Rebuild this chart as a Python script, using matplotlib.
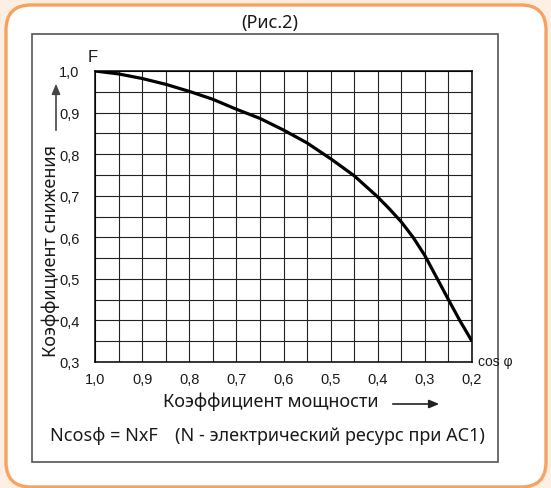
import numpy as np
import matplotlib
matplotlib.use("Agg")
import matplotlib.pyplot as plt
from matplotlib.patches import FancyBboxPatch, Rectangle

cos_phi = [1.0, 0.95, 0.9, 0.85, 0.8, 0.75, 0.7, 0.65, 0.6, 0.55, 0.5,
           0.45, 0.4, 0.375, 0.35, 0.325, 0.3, 0.275, 0.25, 0.225, 0.2]
factor = [1.0, 0.993, 0.982, 0.968, 0.951, 0.932, 0.908, 0.886, 0.858,
          0.827, 0.789, 0.748, 0.697, 0.668, 0.637, 0.600, 0.556, 0.503,
          0.450, 0.398, 0.35]

x_ticks = [1.0, 0.9, 0.8, 0.7, 0.6, 0.5, 0.4, 0.3, 0.2]
y_ticks = [0.3, 0.4, 0.5, 0.6, 0.7, 0.8, 0.9, 1.0]

title = "(Рис.2)"
ylabel = "Коэффициент снижения"
xlabel = "Коэффициент мощности"
formula = "Ncosφ = NxF"
note = "(N - электрический ресурс при AC1)"

W, H = 551, 489
text_font = ["Noto Sans", "DejaVu Sans"]
num_font = ["Liberation Sans", "DejaVu Sans"]
dark = "#1a1a1a"

fig = plt.figure(figsize=(W / 100, H / 100), dpi=100)
fig.patch.set_facecolor("#fdefe3")

# background frame, in pixel units
bg = fig.add_axes([0, 0, 1, 1])
bg.set_xlim(0, W)
bg.set_ylim(H, 0)
bg.axis("off")
bg.add_patch(FancyBboxPatch((6 + 25, 6 + 25), 540 - 50, 482 - 50,
                            boxstyle="round,pad=25", fc="white",
                            ec="#f7a35f", lw=2.4))
bg.add_patch(Rectangle((32, 35), 466, 428, fc="none", ec="#555555", lw=1.2))

bg.text(270, 23, title, ha="center", va="center", fontsize=13,
        family=text_font, color=dark)
bg.text(51, 251, ylabel, ha="center", va="center", rotation=90,
        fontsize=13, family=text_font, color=dark)
bg.annotate("", xy=(56, 82), xytext=(56, 134),
            arrowprops=dict(arrowstyle="-|>,head_length=0.6,head_width=0.25",
                            color="#444444", lw=1.2))
bg.text(271, 402, xlabel, ha="center", va="center", fontsize=13,
        family=text_font, color=dark)
bg.annotate("", xy=(442, 405), xytext=(390, 405),
            arrowprops=dict(arrowstyle="-|>,head_length=0.6,head_width=0.25",
                            color="#222222", lw=1.2))
bg.text(50, 436, formula, ha="left", va="center", fontsize=13,
        family=text_font, color=dark)
bg.text(175, 436, note, ha="left", va="center", fontsize=13,
        family=text_font, color=dark)
bg.text(88, 57, "F", ha="left", va="center", fontsize=12,
        family=num_font, color=dark)
bg.text(478, 362, "cos φ", ha="left", va="center", fontsize=10,
        family=num_font, color=dark)

# chart
left, right, top, bottom = 95, 472, 72, 363
ax = fig.add_axes([left / W, 1 - bottom / H, (right - left) / W, (bottom - top) / H])
ax.set_facecolor("white")
ax.plot(cos_phi, factor, color="black", lw=2.3, solid_joinstyle="round",
        solid_capstyle="butt", zorder=3)
ax.set_xlim(1.0, 0.2)
ax.set_ylim(0.3, 1.0)

ax.set_xticks(x_ticks)
ax.set_xticklabels([f"{v:.1f}".replace(".", ",") for v in x_ticks])
ax.set_yticks(y_ticks)
ax.set_yticklabels([f"{v:.1f}".replace(".", ",") for v in y_ticks])
ax.set_xticks(np.arange(0.2, 1.0, 0.05), minor=True)
ax.set_yticks(np.arange(0.3, 1.0, 0.05), minor=True)
ax.tick_params(which="both", length=0, labelsize=10.5, colors=dark)
ax.tick_params(axis="x", pad=7)
ax.tick_params(axis="y", pad=11)
for lab in ax.get_xticklabels() + ax.get_yticklabels():
    lab.set_family(num_font)
ax.grid(which="both", color="#222222", lw=0.8)
for s in ax.spines.values():
    s.set_color("black")
    s.set_linewidth(1.1)

fig.savefig("out.png", dpi=100, facecolor=fig.get_facecolor())
